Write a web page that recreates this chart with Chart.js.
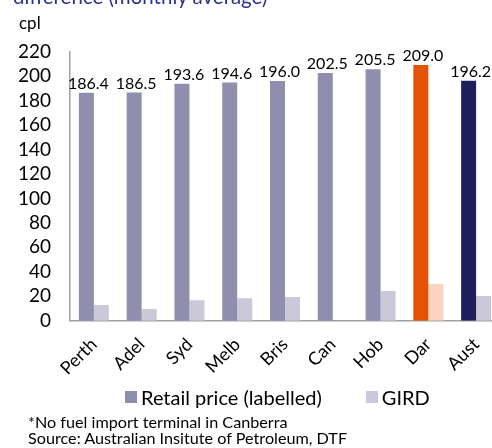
<!DOCTYPE html>
<html>
<head>
<meta charset="utf-8">
<script src="https://cdn.jsdelivr.net/npm/chart.js@4.4.1/dist/chart.umd.min.js"></script>
<style>
  html, body { margin: 0; padding: 0; background: #fff; overflow: hidden; width: 492px; height: 448px; }
  body { position: relative; font-family: Lato, "Noto Sans", sans-serif; color: #000; }
  #wrap { position: absolute; left: 0; top: 0; width: 520px; height: 448px; }
  .txt { position: absolute; white-space: nowrap; line-height: 1; }
  #title { left: 13px; top: -14px; font-size: 20.5px; color: #2e3192; }
  #unit { left: 19px; top: 14px; font-size: 17px; }
  #legend { left: 125px; top: 387px; font-size: 20px; display: flex; align-items: center; }
  .sw { display: inline-block; width: 12px; height: 12px; margin-right: 4px; }
  #note1 { left: 28px; top: 414px; font-size: 16.2px; }
  #note2 { left: 28px; top: 430px; font-size: 16.2px; }
</style>
</head>
<body>
<div id="wrap"><canvas id="c"></canvas></div>
<div class="txt" id="title">difference (monthly average)</div>
<div class="txt" id="unit">cpl</div>
<div class="txt" id="legend"></div>
<div class="txt" id="note1">*No fuel import terminal in Canberra</div>
<div class="txt" id="note2">Source: Australian Insitute of Petroleum, DTF</div>
<script>
const categories = ["Perth", "Adel", "Syd", "Melb", "Bris", "Can", "Hob", "Dar", "Aust"];
const retailPrice = [186.4, 186.5, 193.6, 194.6, 196.0, 202.5, 205.5, 209.0, 196.2];
const gird = [13, 9.6, 16.7, 18.4, 19.4, null, 24.3, 30.1, 20.3];
const yTicks = [0, 20, 40, 60, 80, 100, 120, 140, 160, 180, 200, 220];
const seriesNames = ["Retail price (labelled)", "GIRD"];

const retailBase = "#8e8fae", girdBase = "#c9c9d9";
const retailColors = categories.map(c => c === "Dar" ? "#e35205" : c === "Aust" ? "#1f1f5c" : retailBase);
const girdColors = categories.map(c => c === "Dar" ? "#f9d4c0" : girdBase);

const labelPlugin = {
  id: "barLabels",
  afterDatasetsDraw(chart) {
    const ctx = chart.ctx;
    const meta = chart.getDatasetMeta(0);
    ctx.save();
    ctx.font = "16px Lato";
    ctx.fillStyle = "#000";
    ctx.textAlign = "center";
    ctx.textBaseline = "bottom";
    meta.data.forEach((bar, i) => {
      ctx.fillText(retailPrice[i].toFixed(1), bar.x + 2, bar.y - 1);
    });
    ctx.restore();
  }
};

new Chart(document.getElementById("c"), {
  type: "bar",
  data: {
    labels: categories,
    datasets: [
      { label: seriesNames[0], data: retailPrice, backgroundColor: retailColors, barPercentage: 1, categoryPercentage: 0.628 },
      { label: seriesNames[1], data: gird, backgroundColor: girdColors, barPercentage: 1, categoryPercentage: 0.628 }
    ]
  },
  options: {
    responsive: true,
    maintainAspectRatio: false,
    animation: false,
    layout: { padding: { top: 51.5, right: 20, left: 0, bottom: 0 } },
    plugins: { legend: { display: false }, tooltip: { enabled: false } },
    scales: {
      x: {
        grid: { display: false, drawTicks: false },
        border: { display: true, color: "#a0a0a0", width: 1.5 },
        ticks: { color: "#000", font: { family: "Lato", size: 18 }, minRotation: 45, maxRotation: 45, padding: 13 },
        afterFit(s) { s.height = 448 - 320.8; }
      },
      y: {
        min: 0, max: 220,
        afterBuildTicks(s) { s.ticks = yTicks.map(v => ({ value: v })); },
        grid: { display: false, drawTicks: false },
        border: { display: true, color: "#a0a0a0", width: 1.5 },
        ticks: { color: "#000", font: { family: "Lato", size: 19 }, padding: 19, autoSkip: false },
        afterFit(s) { s.width = 70; }
      }
    }
  },
  plugins: [labelPlugin]
});

const leg = document.getElementById("legend");
seriesNames.forEach((n, i) => {
  const item = document.createElement("span");
  item.style.display = "inline-flex";
  item.style.alignItems = "center";
  if (i > 0) item.style.marginLeft = "44px";
  const sw = document.createElement("span");
  sw.className = "sw";
  sw.style.background = i === 0 ? retailBase : girdBase;
  item.appendChild(sw);
  item.appendChild(document.createTextNode(n));
  leg.appendChild(item);
});
</script>
</body>
</html>
